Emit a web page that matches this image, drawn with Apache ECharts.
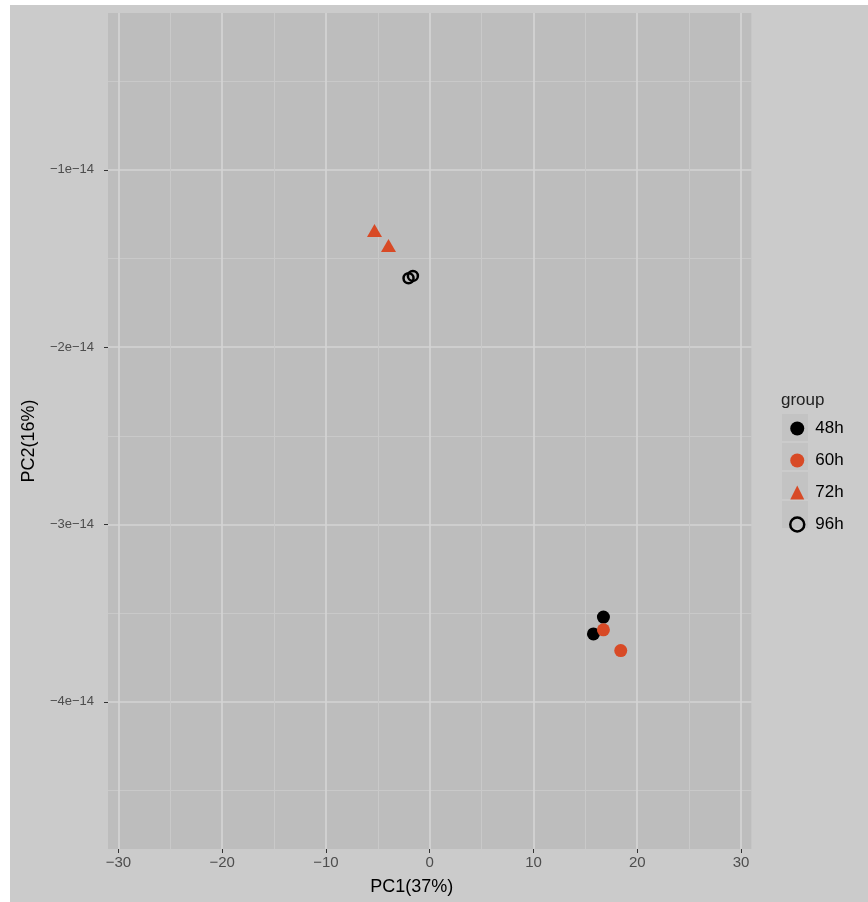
<!DOCTYPE html>
<html>
<head>
<meta charset="utf-8">
<script src="https://cdn.jsdelivr.net/npm/echarts@6/dist/echarts.min.js"></script>
<style>
  html, body { margin: 0; padding: 0; background: #ffffff; }
  #chart { position: absolute; left: 10px; top: 5px; width: 858px; height: 897px; }
</style>
</head>
<body>
<div id="chart"></div>
<script>
// PC1 in %, PC2 in units of 1e-14
const groups = ['48h', '60h', '72h', '96h'];
const pc1_48h = [16.74, 15.78];
const pc2_48h = [-3.522, -3.617];
const pc1_60h = [16.74, 18.41];
const pc2_60h = [-3.594, -3.711];
const pc1_72h = [-5.32, -3.97];
const pc2_72h = [-1.342, -1.426];
const pc1_96h = [-2.04, -1.62];
const pc2_96h = [-1.611, -1.598];
const xTicks = [-30, -20, -10, 0, 10, 20, 30];
const yTicks = [-4, -3, -2, -1];

const RED = '#d84a26';
const zip = (a, b) => a.map((v, i) => [v, b[i]]);
const minus = '\u2212';

const chart = echarts.init(document.getElementById('chart'));
const axisCommon = {
  axisLine: { show: false, onZero: false },
  axisTick: { show: true, length: 4, lineStyle: { color: '#333', width: 1 } },
  splitLine: { show: true, lineStyle: { color: '#d5d5d5', width: 1.6 } },
  minorTick: { show: false, splitNumber: 2 },
  minorSplitLine: { show: true, lineStyle: { color: '#c9c9c9', width: 1 } }
};
chart.setOption({
  backgroundColor: '#cbcbcb',
  animation: false,
  title: {
    text: 'group', left: 771, top: 387, padding: 0,
    textStyle: { fontFamily: 'Liberation Sans', fontSize: 17, fontWeight: 'normal', color: '#222' }
  },
  graphic: groups.map((g, i) => ({
    type: 'rect', left: 772, top: 409 + i * 29, z: 0,
    shape: { width: 26, height: 27 },
    style: { fill: '#c3c3c3' }
  })),
  legend: {
    orient: 'vertical', left: 779, top: 415, padding: 0,
    itemWidth: 14, itemHeight: 14, itemGap: 15,
    textStyle: { fontFamily: 'Liberation Sans', fontSize: 17, color: '#000', padding: [0, 0, 0, 6] },
    data: [
      { name: '48h', icon: 'circle', itemStyle: { color: '#000' } },
      { name: '60h', icon: 'circle', itemStyle: { color: RED } },
      { name: '72h', icon: 'triangle', itemStyle: { color: RED } },
      { name: '96h', icon: 'circle', itemStyle: { color: 'rgba(0,0,0,0)', borderColor: '#000', borderWidth: 2.5 } }
    ]
  },
  grid: { left: 98, right: 116.6, top: 8, bottom: 53, show: true, backgroundColor: '#bdbdbd', borderWidth: 0 },
  xAxis: Object.assign({}, axisCommon, {
    type: 'value', min: -31, max: 31,
    axisTick: Object.assign({}, axisCommon.axisTick, { customValues: xTicks }),
    axisLabel: {
      customValues: xTicks, margin: 6, color: '#4d4d4d', fontFamily: 'Liberation Sans', fontSize: 15,
      formatter: v => (v < 0 ? minus + Math.abs(v) : String(v))
    },
    name: 'PC1(37%)', nameLocation: 'middle', nameGap: 29,
    nameTextStyle: { fontFamily: 'Liberation Sans', fontSize: 18, color: '#000', padding: [0, 36, 0, 0] }
  }),
  yAxis: Object.assign({}, axisCommon, {
    type: 'value', min: -4.83, max: -0.115,
    axisTick: Object.assign({}, axisCommon.axisTick, { customValues: yTicks }),
    axisLabel: {
      customValues: yTicks, margin: 14, color: '#4d4d4d', fontFamily: 'Liberation Sans', fontSize: 13,
      formatter: v => minus + Math.abs(v) + 'e' + minus + '14'
    },
    name: 'PC2(16%)', nameLocation: 'middle', nameGap: 70, nameRotate: 90,
    nameTextStyle: { fontFamily: 'Liberation Sans', fontSize: 18, color: '#000', padding: [0, 20, 0, 0] }
  }),
  series: [
    { name: '48h', type: 'scatter', symbol: 'circle', symbolSize: 13, data: zip(pc1_48h, pc2_48h),
      itemStyle: { color: '#000', opacity: 1 } },
    { name: '60h', type: 'scatter', symbol: 'circle', symbolSize: 13, data: zip(pc1_60h, pc2_60h),
      itemStyle: { color: RED, opacity: 1 } },
    { name: '72h', type: 'scatter', symbol: 'triangle', symbolSize: [15, 13], data: zip(pc1_72h, pc2_72h),
      itemStyle: { color: RED, opacity: 1 } },
    { name: '96h', type: 'scatter', symbol: 'circle', symbolSize: 10, data: zip(pc1_96h, pc2_96h),
      itemStyle: { color: 'rgba(0,0,0,0)', borderColor: '#000', borderWidth: 2.5, opacity: 1 } }
  ]
});
</script>
</body>
</html>
